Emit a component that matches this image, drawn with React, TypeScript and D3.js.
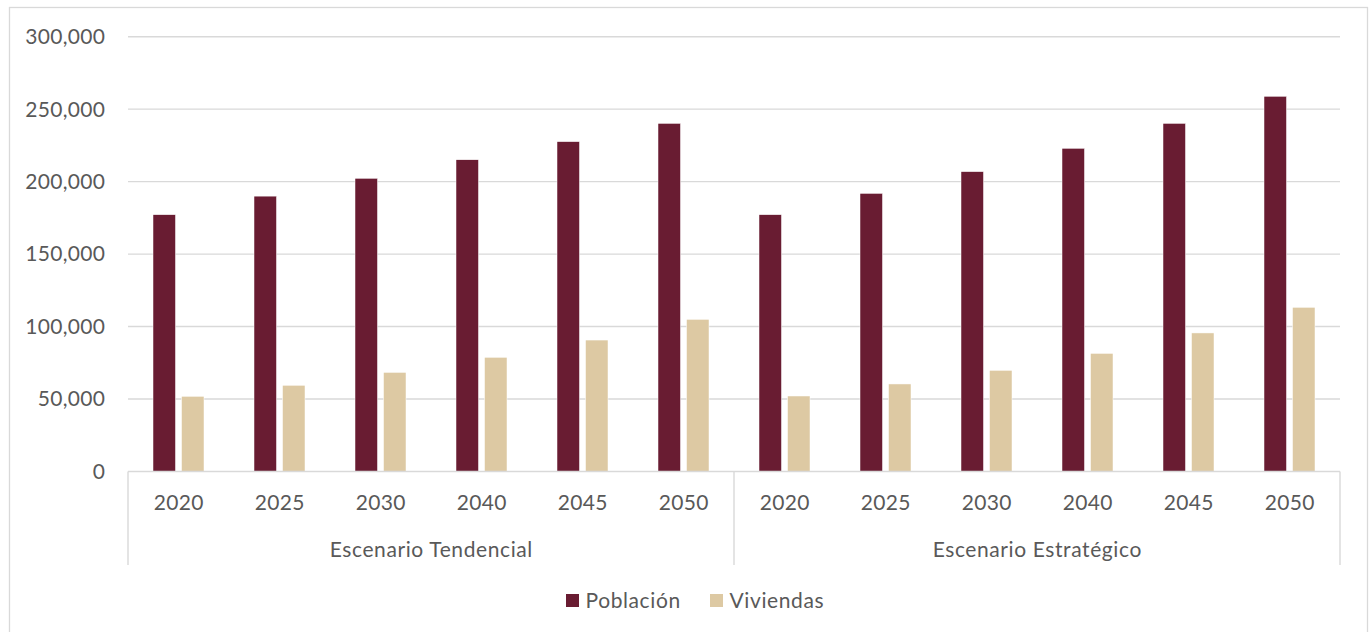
import React from "react";
import * as d3 from "d3";

const scenarios = ["Escenario Tendencial", "Escenario Estratégico"];
const years = ["2020", "2025", "2030", "2040", "2045", "2050"];
const seriesNames = ["Población", "Viviendas"];
const poblacionTendencial = [177200, 190000, 202300, 215100, 227600, 240200];
const poblacionEstrategico = [177200, 191900, 206900, 223000, 240200, 258900];
const viviendasTendencial = [51900, 59500, 68400, 78800, 90700, 105000];
const viviendasEstrategico = [52100, 60400, 69800, 81500, 95600, 113300];
const yTicks = [0, 50000, 100000, 150000, 200000, 250000, 300000];
const colors = ["#691C32", "#DDC9A3"];

type Row = { scenario: string; year: string; key: string; values: number[] };
const rows: Row[] = [];
scenarios.forEach((s, si) => {
  years.forEach((y, yi) => {
    const pob = si === 0 ? poblacionTendencial[yi] : poblacionEstrategico[yi];
    const viv = si === 0 ? viviendasTendencial[yi] : viviendasEstrategico[yi];
    rows.push({ scenario: s, year: y, key: `${si}-${y}`, values: [pob, viv] });
  });
});

export default function App() {
  const W = 1372;
  const H = 632;
  const left = 128;
  const right = 1340;
  const top = 36.7;
  const bottom = 471.5;
  const font = "Lato, 'Open Sans', sans-serif";
  const textColor = "#595959";
  const gridColor = "#d9d9d9";
  const numSpacing = 0.3;
  const wordSpacing = 0.6;

  const x = d3.scaleBand<string>().domain(rows.map((r) => r.key)).range([left, right]).padding(0);
  const inner = d3.scaleBand<string>().domain(seriesNames).range([0, 51]).paddingInner(6 / 28.5).paddingOuter(0);
  const y = d3.scaleLinear().domain([0, 300000]).range([bottom, top]);
  const fmt = d3.format(",");

  const scenarioX = (si: number) => {
    const first = x(rows[si * years.length].key)!;
    const last = x(rows[si * years.length + years.length - 1].key)! + x.bandwidth();
    return [first, last];
  };

  return (
    <svg width={W} height={H} style={{ position: "absolute", left: 0, top: 0 }}>
      <rect x={0} y={0} width={W} height={H} fill="#fff" />
      <rect x={9.5} y={7.5} width={1358} height={660} fill="#fff" stroke={gridColor} strokeWidth={1.3} />
      {yTicks.map((t) => (
        <g key={t}>
          {t > 0 && (
            <line x1={left} x2={right} y1={y(t)} y2={y(t)} stroke={gridColor} strokeWidth={1.4} />
          )}
          <text
            x={105 + numSpacing}
            y={y(t)}
            dy="0.35em"
            textAnchor="end"
            fontFamily={font}
            fontSize={21}
            letterSpacing={numSpacing}
            fill={textColor}
          >
            {fmt(t)}
          </text>
        </g>
      ))}
      {rows.map((r) => {
        const cx = x(r.key)! + x.bandwidth() / 2 - 25.5;
        return (
          <g key={r.key}>
            {r.values.map((v, i) => (
              <rect
                key={i}
                x={cx + inner(seriesNames[i])!}
                y={y(v)}
                width={inner.bandwidth()}
                height={bottom - y(v)}
                fill={colors[i]}
                stroke="#fff"
                strokeWidth={0.5}
              />
            ))}
            <text
              x={x(r.key)! + x.bandwidth() / 2 + numSpacing / 2}
              y={502.5}
              dy="0.35em"
              textAnchor="middle"
              fontFamily={font}
              fontSize={21}
              letterSpacing={numSpacing}
              fill={textColor}
            >
              {r.year}
            </text>
          </g>
        );
      })}
      <line x1={left} x2={right} y1={bottom} y2={bottom} stroke={gridColor} strokeWidth={1.4} />
      {[left, scenarioX(1)[0], right].map((xv, i) => (
        <line key={i} x1={xv} x2={xv} y1={bottom} y2={565} stroke={gridColor} strokeWidth={1.4} />
      ))}
      {scenarios.map((s, si) => {
        const [a, b] = scenarioX(si);
        return (
          <text
            key={s}
            x={(a + b) / 2 + wordSpacing / 2}
            y={549.5}
            dy="0.35em"
            textAnchor="middle"
            fontFamily={font}
            fontSize={21}
            letterSpacing={wordSpacing}
            fill={textColor}
          >
            {s}
          </text>
        );
      })}
      {seriesNames.map((n, i) => {
        const lx = i === 0 ? 566 : 710;
        return (
          <g key={n}>
            <rect x={lx} y={594} width={13} height={13} fill={colors[i]} />
            <text
              x={lx + 19.5}
              y={600.5}
              dy="0.35em"
              fontFamily={font}
              fontSize={21}
              letterSpacing={wordSpacing}
              fill={textColor}
            >
              {n}
            </text>
          </g>
        );
      })}
    </svg>
  );
}
